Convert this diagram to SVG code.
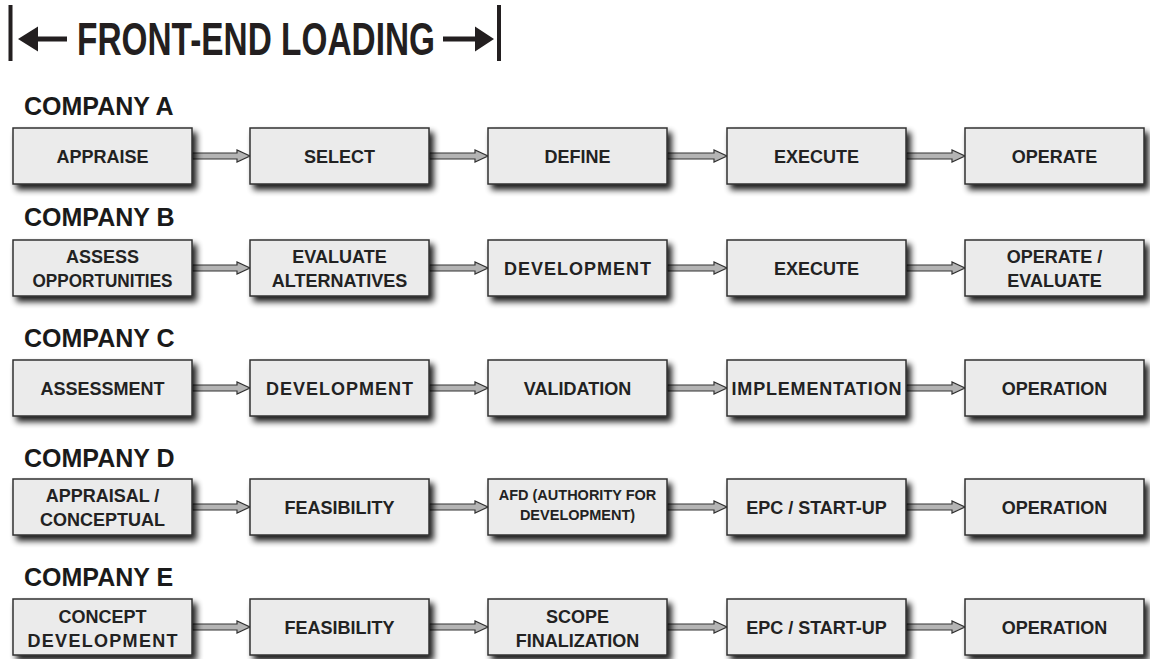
<svg xmlns="http://www.w3.org/2000/svg" width="1150" height="659" viewBox="0 0 1150 659">
<style>
  .title{font-family:"Liberation Sans",Arial,sans-serif;font-weight:bold;font-size:47px;fill:#231f20}
  .co{font-family:"Liberation Sans",Arial,sans-serif;font-weight:bold;font-size:25px;fill:#1a1a1a}
  .box{fill:#ebebeb;stroke:#333;stroke-width:1.5;filter:url(#sh)}
  .t{font-family:"Liberation Sans",Arial,sans-serif;font-weight:bold;font-size:18px;fill:#222;text-anchor:middle}
  .s{font-size:14.5px}
  .arr{fill:#b4b4b4;stroke:#333;stroke-width:1.2;stroke-linejoin:miter}
  .bar{fill:#231f20}
</style>
<defs>
  <filter id="sh" x="-10%" y="-20%" width="130%" height="160%">
    <feGaussianBlur in="SourceAlpha" stdDeviation="3.2"/>
    <feOffset dx="4" dy="5" result="b"/>
    <feComponentTransfer><feFuncA type="linear" slope="0.9"/></feComponentTransfer>
    <feMerge><feMergeNode/><feMergeNode in="SourceGraphic"/></feMerge>
  </filter>
</defs>
<rect width="1150" height="659" fill="#fff"/>
<g id="title">
  <rect class="bar" x="8.5" y="5" width="4" height="56"/>
  <rect class="bar" x="497" y="5" width="4" height="56"/>
  <polygon class="bar" points="18,39 38,26.5 38,36.5 67,36.5 67,41.5 38,41.5 38,51.5"/>
  <polygon class="bar" points="494,39 475,26.5 475,36.5 443,36.5 443,41.5 475,41.5 475,51.5"/>
  <text class="title" x="77" y="55" textLength="358" lengthAdjust="spacingAndGlyphs">FRONT-END LOADING</text>
</g>
<g id="labels">
  <text class="co" x="24" y="115">COMPANY A</text>
  <text class="co" x="24" y="226">COMPANY B</text>
  <text class="co" x="24" y="347">COMPANY C</text>
  <text class="co" x="24" y="467">COMPANY D</text>
  <text class="co" x="24" y="586">COMPANY E</text>
</g>
<g id="connectors">
  <polygon class="arr" points="192,153 237,153 237,150 250,156 237,162 237,159 192,159"/>
  <polygon class="arr" points="429,153 475,153 475,150 488,156 475,162 475,159 429,159"/>
  <polygon class="arr" points="667,153 714,153 714,150 727,156 714,162 714,159 667,159"/>
  <polygon class="arr" points="906,153 952,153 952,150 965,156 952,162 952,159 906,159"/>
  <polygon class="arr" points="192,265 237,265 237,262 250,268 237,274 237,271 192,271"/>
  <polygon class="arr" points="429,265 475,265 475,262 488,268 475,274 475,271 429,271"/>
  <polygon class="arr" points="667,265 714,265 714,262 727,268 714,274 714,271 667,271"/>
  <polygon class="arr" points="906,265 952,265 952,262 965,268 952,274 952,271 906,271"/>
  <polygon class="arr" points="192,385 237,385 237,382 250,388 237,394 237,391 192,391"/>
  <polygon class="arr" points="429,385 475,385 475,382 488,388 475,394 475,391 429,391"/>
  <polygon class="arr" points="667,385 714,385 714,382 727,388 714,394 714,391 667,391"/>
  <polygon class="arr" points="906,385 952,385 952,382 965,388 952,394 952,391 906,391"/>
  <polygon class="arr" points="192,504 237,504 237,501 250,507 237,513 237,510 192,510"/>
  <polygon class="arr" points="429,504 475,504 475,501 488,507 475,513 475,510 429,510"/>
  <polygon class="arr" points="667,504 714,504 714,501 727,507 714,513 714,510 667,510"/>
  <polygon class="arr" points="906,504 952,504 952,501 965,507 952,513 952,510 906,510"/>
  <polygon class="arr" points="192,624 237,624 237,621 250,627 237,633 237,630 192,630"/>
  <polygon class="arr" points="429,624 475,624 475,621 488,627 475,633 475,630 429,630"/>
  <polygon class="arr" points="667,624 714,624 714,621 727,627 714,633 714,630 667,630"/>
  <polygon class="arr" points="906,624 952,624 952,621 965,627 952,633 952,630 906,630"/>
</g>
<g id="a1"><rect class="box" x="13" y="128" width="179" height="56"/><text class="t" x="102.5" y="163">APPRAISE</text></g>
<g id="a2"><rect class="box" x="250" y="128" width="179" height="56"/><text class="t" x="339.5" y="163">SELECT</text></g>
<g id="a3"><rect class="box" x="488" y="128" width="179" height="56"/><text class="t" x="577.5" y="163">DEFINE</text></g>
<g id="a4"><rect class="box" x="727" y="128" width="179" height="56"/><text class="t" x="816.5" y="163">EXECUTE</text></g>
<g id="a5"><rect class="box" x="965" y="128" width="179" height="56"/><text class="t" x="1054.5" y="163">OPERATE</text></g>
<g id="b1"><rect class="box" x="13" y="240" width="179" height="56"/><text class="t" x="102.5" y="263">ASSESS</text><text class="t" x="102.5" y="287" textLength="140" lengthAdjust="spacingAndGlyphs">OPPORTUNITIES</text></g>
<g id="b2"><rect class="box" x="250" y="240" width="179" height="56"/><text class="t" x="339.5" y="263">EVALUATE</text><text class="t" x="339.5" y="287">ALTERNATIVES</text></g>
<g id="b3"><rect class="box" x="488" y="240" width="179" height="56"/><text class="t" x="577.5" y="275" textLength="147">DEVELOPMENT</text></g>
<g id="b4"><rect class="box" x="727" y="240" width="179" height="56"/><text class="t" x="816.5" y="275">EXECUTE</text></g>
<g id="b5"><rect class="box" x="965" y="240" width="179" height="56"/><text class="t" x="1054.5" y="263">OPERATE /</text><text class="t" x="1054.5" y="287">EVALUATE</text></g>
<g id="c1"><rect class="box" x="13" y="360" width="179" height="56"/><text class="t" x="102.5" y="395">ASSESSMENT</text></g>
<g id="c2"><rect class="box" x="250" y="360" width="179" height="56"/><text class="t" x="339.5" y="395" textLength="147">DEVELOPMENT</text></g>
<g id="c3"><rect class="box" x="488" y="360" width="179" height="56"/><text class="t" x="577.5" y="395">VALIDATION</text></g>
<g id="c4"><rect class="box" x="727" y="360" width="179" height="56"/><text class="t" x="816.5" y="395" textLength="170">IMPLEMENTATION</text></g>
<g id="c5"><rect class="box" x="965" y="360" width="179" height="56"/><text class="t" x="1054.5" y="395">OPERATION</text></g>
<g id="d1"><rect class="box" x="13" y="479" width="179" height="56"/><text class="t" x="102.5" y="502">APPRAISAL /</text><text class="t" x="102.5" y="526">CONCEPTUAL</text></g>
<g id="d2"><rect class="box" x="250" y="479" width="179" height="56"/><text class="t" x="339.5" y="514">FEASIBILITY</text></g>
<g id="d3"><rect class="box" x="488" y="479" width="179" height="56"/><text class="t s" x="577.5" y="500">AFD (AUTHORITY FOR</text><text class="t s" x="577.5" y="520">DEVELOPMENT)</text></g>
<g id="d4"><rect class="box" x="727" y="479" width="179" height="56"/><text class="t" x="816.5" y="514">EPC / START-UP</text></g>
<g id="d5"><rect class="box" x="965" y="479" width="179" height="56"/><text class="t" x="1054.5" y="514">OPERATION</text></g>
<g id="e1"><rect class="box" x="13" y="599" width="179" height="56"/><text class="t" x="102.5" y="623">CONCEPT</text><text class="t" x="102.5" y="647" textLength="150">DEVELOPMENT</text></g>
<g id="e2"><rect class="box" x="250" y="599" width="179" height="56"/><text class="t" x="339.5" y="634">FEASIBILITY</text></g>
<g id="e3"><rect class="box" x="488" y="599" width="179" height="56"/><text class="t" x="577.5" y="623">SCOPE</text><text class="t" x="577.5" y="647">FINALIZATION</text></g>
<g id="e4"><rect class="box" x="727" y="599" width="179" height="56"/><text class="t" x="816.5" y="634">EPC / START-UP</text></g>
<g id="e5"><rect class="box" x="965" y="599" width="179" height="56"/><text class="t" x="1054.5" y="634">OPERATION</text></g>
</svg>
